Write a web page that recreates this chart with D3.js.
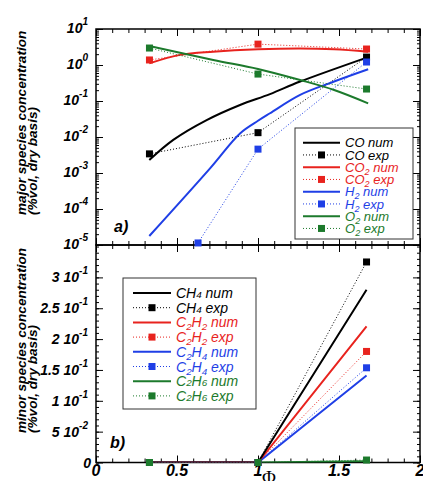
<!DOCTYPE html>
<html><head><meta charset="utf-8">
<script src="https://cdn.jsdelivr.net/npm/d3@7"></script>
<style>
html,body{margin:0;padding:0;background:#fff;}
svg{display:block;font-family:"Liberation Sans",Arial,sans-serif;}
</style></head>
<body>
<svg id="chart" width="423" height="481"></svg>
<script>
// ---------- DATA ----------
// Top panel (major species, log scale)
const coNumPhi  = [0.329, 0.477, 0.683, 0.889, 1.074, 1.26, 1.68];
const coNum     = [2.29e-3, 8.3e-3, 0.0295, 0.0776, 0.155, 0.347, 1.66];
const co2NumPhi = [0.329, 0.519, 0.724, 1.0, 1.26, 1.47, 1.68];
const co2Num    = [1.11, 1.91, 2.34, 2.73, 2.88, 2.73, 2.34];
const h2NumPhi  = [0.329, 0.704, 0.889, 1.0, 1.074, 1.26, 1.47, 1.68];
const h2Num     = [1.78e-5, 1.35e-3, 0.0126, 0.0282, 0.0457, 0.148, 0.347, 0.759];
const o2NumPhi  = [0.329, 0.724, 1.0, 1.26, 1.47, 1.68];
const o2Num     = [3.37, 1.38, 0.776, 0.383, 0.202, 0.086];

const expPhi    = [0.33, 1.0, 1.67];
const coExp     = [3.4e-3, 0.0132, 1.66];
const co2Exp    = [1.38, 3.8, 2.78];
const h2ExpPhi  = [0.63, 1.0, 1.67];
const h2Exp     = [1.14e-5, 4.6e-3, 1.21];
const o2Exp     = [2.96, 0.56, 0.215];

// Bottom panel (minor species, linear scale)
const minorPhi  = [0.33, 1.0, 1.67];
const ch4Num    = [0, 0, 0.280];
const ch4Exp    = [0, 0, 0.325];
const c2h2Num   = [0, 0, 0.2205];
const c2h2Exp   = [0, 0, 0.180];
const c2h4Num   = [0, 0, 0.141];
const c2h4Exp   = [0, 0, 0.1535];
const c2h6NumPhi = [1.0, 1.67];
const c2h6Num   = [0, 0.002];
const c2h6Exp   = [0, 0, 0.004];

// Tick labels
const xTickVals   = [0, 0.5, 1, 1.5, 2];
const xTickLabels = ["0", "0.5", "1", "1.5", "2"];
const topTickVals = [10, 1, 0.1, 0.01, 0.001, 1e-4, 1e-5];
const topTickExp  = ["1", "0", "-1", "-2", "-3", "-4", "-5"];
const botTickVals = [0.3, 0.25, 0.2, 0.15, 0.1, 0.05, 0];
const botTickMant = ["3 10", "2.5 10", "2 10", "1.5 10", "1 10", "5 10", "0"];
const botTickExp  = ["-1", "-1", "-1", "-1", "-1", "-2", ""];

// ---------- STYLE ----------
const BLACK = "#000", RED = "#e8231e", BLUE = "#1f3fe6", GREEN = "#1c7a2c";

const svg = d3.select("#chart");
const x = d3.scaleLinear().domain([0, 2]).range([96, 420]);
const yTop = d3.scaleLog().domain([1e-5, 10]).range([245, 29]);
const yBot = d3.scaleLinear().domain([0, 0.3525]).range([462.5, 245]);

// clip paths
const defs = svg.append("defs");
defs.append("clipPath").attr("id", "clipTop").append("rect")
  .attr("x", 96).attr("y", 29).attr("width", 324).attr("height", 216);
defs.append("clipPath").attr("id", "clipBot").append("rect")
  .attr("x", 96).attr("y", 245).attr("width", 324).attr("height", 217.5);

// ---------- AXES (ticks inward) ----------
function xTicks(yPos, dir) {
  const major = d3.range(0, 2.0001, 0.5);
  const minor = d3.range(0, 2.0001, 0.1);
  const mk = dir > 0 ? d3.axisBottom : d3.axisTop;
  svg.append("g").attr("transform", `translate(0,${yPos})`)
    .call(mk(x).tickValues(minor).tickSize(-4).tickFormat(""))
    .call(g => g.select(".domain").remove());
  svg.append("g").attr("transform", `translate(0,${yPos})`)
    .call(mk(x).tickValues(major).tickSize(-7).tickFormat(""))
    .call(g => g.select(".domain").remove());
}
xTicks(245, 1); xTicks(29, -1); xTicks(462.5, 1); xTicks(245, -1);

// y ticks (left and right, inward)
const logMinor = [];
for (let e = -5; e < 1; e++) for (let m = 2; m <= 9; m++) logMinor.push(m * Math.pow(10, e));
[[d3.axisLeft, 96], [d3.axisRight, 420]].forEach(([ax, xp]) => {
  svg.append("g").attr("transform", `translate(${xp},0)`)
    .call(ax(yTop).tickValues(logMinor).tickSize(-3).tickFormat(""))
    .call(g => g.select(".domain").remove());
  svg.append("g").attr("transform", `translate(${xp},0)`)
    .call(ax(yTop).tickValues(topTickVals).tickSize(-7).tickFormat(""))
    .call(g => g.select(".domain").remove());
  svg.append("g").attr("transform", `translate(${xp},0)`)
    .call(ax(yBot).tickValues(d3.range(0, 0.351, 0.01)).tickSize(-3).tickFormat(""))
    .call(g => g.select(".domain").remove());
  svg.append("g").attr("transform", `translate(${xp},0)`)
    .call(ax(yBot).tickValues(botTickVals).tickSize(-7).tickFormat(""))
    .call(g => g.select(".domain").remove());
});
svg.selectAll(".tick line").attr("stroke", "#000").attr("stroke-width", 1);

// frames
svg.append("rect").attr("x", 96).attr("y", 29).attr("width", 324).attr("height", 216)
  .attr("fill", "none").attr("stroke", "#000").attr("stroke-width", 1.5);
svg.append("rect").attr("x", 96).attr("y", 245).attr("width", 324).attr("height", 217.5)
  .attr("fill", "none").attr("stroke", "#000").attr("stroke-width", 1.5);

// tick labels
const tickFont = "bold italic 14px 'Liberation Sans', Arial, sans-serif";
topTickVals.forEach((v, i) => {
  const t = svg.append("text").attr("x", 88).attr("y", yTop(v) + 4)
    .attr("text-anchor", "end").style("font", tickFont);
  t.append("tspan").text("10");
  t.append("tspan").attr("baseline-shift", "8px").style("font-size", "10px").text(topTickExp[i]);
});
botTickVals.forEach((v, i) => {
  const t = svg.append("text").attr("x", botTickExp[i] ? 88 : 91).attr("y", yBot(v) + 5)
    .attr("text-anchor", "end").style("font", tickFont);
  t.append("tspan").text(botTickMant[i]);
  if (botTickExp[i]) t.append("tspan").attr("baseline-shift", "8px").style("font-size", "10px").text(botTickExp[i]);
});
xTickVals.forEach((v, i) => {
  svg.append("text").attr("x", x(v)).attr("y", 476).attr("text-anchor", "middle")
    .style("font", "bold italic 16px 'Liberation Sans', Arial, sans-serif").text(xTickLabels[i]);
});
svg.append("text").attr("x", 269).attr("y", 484).attr("text-anchor", "middle")
  .style("font", "19px 'Liberation Serif', serif").text("Φ");

// axis titles
const titleFont = "bold italic 13.6px 'Liberation Sans', Arial, sans-serif";
function yTitle(lines, startY) {
  [[lines[0], 26], [lines[1], 37]].forEach(([txt, bx]) => {
    svg.append("text").attr("transform", `translate(${bx},${startY}) rotate(-90)`)
      .attr("text-anchor", "start").style("font", titleFont).text(txt);
  });
}
yTitle(["major species concentration", "(%vol, dry basis)"], 215);
yTitle(["minor species concentration", "(%vol, dry basis)"], 433);

// panel labels
svg.append("text").attr("x", 114).attr("y", 232)
  .style("font", "bold italic 16px 'Liberation Sans', Arial, sans-serif").text("a)");
svg.append("text").attr("x", 110).attr("y", 448)
  .style("font", "bold italic 16px 'Liberation Sans', Arial, sans-serif").text("b)");

// ---------- SERIES ----------
function drawNum(g, phis, vals, y, color, curve) {
  g.append("path").datum(phis.map((p, i) => [p, vals[i]]))
    .attr("fill", "none").attr("stroke", color).attr("stroke-width", 2)
    .attr("d", d3.line().x(d => x(d[0])).y(d => y(d[1])).curve(curve));
}
function drawExp(g, gm, phis, vals, y, color) {
  const pts = phis.map((p, i) => [p, vals[i]]);
  g.append("path").datum(pts).attr("fill", "none").attr("stroke", color)
    .attr("stroke-width", 1).attr("stroke-dasharray", "1,2")
    .attr("d", d3.line().x(d => x(d[0])).y(d => y(d[1])));
  gm.selectAll(null).data(pts).enter().append("rect")
    .attr("x", d => x(d[0]) - 3.5).attr("y", d => y(d[1]) - 3.5)
    .attr("width", 7).attr("height", 7).attr("fill", color);
}

const smooth = d3.curveCatmullRom.alpha(0.5);
const gTop = svg.append("g").attr("clip-path", "url(#clipTop)");
const gTopM = svg.append("g");
drawNum(gTop, coNumPhi, coNum, yTop, BLACK, smooth);
drawExp(gTop, gTopM, expPhi, coExp, yTop, BLACK);
drawNum(gTop, co2NumPhi, co2Num, yTop, RED, smooth);
drawExp(gTop, gTopM, expPhi, co2Exp, yTop, RED);
drawNum(gTop, h2NumPhi, h2Num, yTop, BLUE, smooth);
drawExp(gTop, gTopM, h2ExpPhi, h2Exp, yTop, BLUE);
drawNum(gTop, o2NumPhi, o2Num, yTop, GREEN, smooth);
drawExp(gTop, gTopM, expPhi, o2Exp, yTop, GREEN);

const gBot = svg.append("g").attr("clip-path", "url(#clipBot)");
const gBotM = svg.append("g");
drawNum(gBot, minorPhi, c2h4Num, yBot, BLUE, d3.curveLinear);
drawNum(gBot, minorPhi, c2h2Num, yBot, RED, d3.curveLinear);
drawNum(gBot, minorPhi, ch4Num, yBot, BLACK, d3.curveLinear);
drawExp(gBot, gBotM, minorPhi, ch4Exp, yBot, BLACK);
drawExp(gBot, gBotM, minorPhi, c2h2Exp, yBot, RED);
drawExp(gBot, gBotM, minorPhi, c2h4Exp, yBot, BLUE);
drawNum(gBot, c2h6NumPhi, c2h6Num, yBot, GREEN, d3.curveLinear);
drawExp(gBot, gBotM, minorPhi, c2h6Exp, yBot, GREEN);

// ---------- LEGENDS ----------
function legend(box, entries, opts) {
  const g = svg.append("g");
  g.append("rect").attr("x", box[0]).attr("y", box[1]).attr("width", box[2]).attr("height", box[3])
    .attr("fill", "#fff").attr("stroke", "#333").attr("stroke-width", 1);
  entries.forEach((e, i) => {
    const cy = opts.y0 + i * opts.dy;
    if (e.type === "num") {
      g.append("line").attr("x1", opts.lx0).attr("x2", opts.lx1).attr("y1", cy).attr("y2", cy)
        .attr("stroke", e.color).attr("stroke-width", 2);
    } else {
      g.append("line").attr("x1", opts.lx0).attr("x2", opts.lx1).attr("y1", cy).attr("y2", cy)
        .attr("stroke", e.color).attr("stroke-width", 1).attr("stroke-dasharray", "1,2");
      const mx = (opts.lx0 + opts.lx1) / 2;
      g.append("rect").attr("x", mx - 3.5).attr("y", cy - 3.5).attr("width", 7).attr("height", 7)
        .attr("fill", e.color);
    }
    const t = g.append("text").attr("x", opts.tx).attr("y", cy + opts.fs * 0.36)
      .attr("fill", e.color).style("font", `italic ${opts.fs}px 'Liberation Sans', Arial, sans-serif`);
    e.parts.forEach(p => {
      const ts = t.append("tspan").text(p[0]);
      if (p[1] === "sub") ts.style("font-size", (opts.fs * 0.7) + "px").attr("baseline-shift", "-3px");
      else if (p[1] === "small") ts.style("font-size", (opts.fs * 0.7) + "px");
    });
  });
}
legend([295, 128, 118, 111], [
  {type: "num", color: BLACK, parts: [["CO num"]]},
  {type: "exp", color: BLACK, parts: [["CO exp"]]},
  {type: "num", color: RED, parts: [["CO"], ["2", "sub"], [" num"]]},
  {type: "exp", color: RED, parts: [["CO"], ["2", "sub"], [" exp"]]},
  {type: "num", color: BLUE, parts: [["H"], ["2", "sub"], [" num"]]},
  {type: "exp", color: BLUE, parts: [["H"], ["2", "sub"], [" exp"]]},
  {type: "num", color: GREEN, parts: [["O"], ["2", "sub"], [" num"]]},
  {type: "exp", color: GREEN, parts: [["O"], ["2", "sub"], [" exp"]]}
], {y0: 142.7, dy: 12.25, lx0: 303, lx1: 340, tx: 345, fs: 13});

legend([123, 278, 133, 131], [
  {type: "num", color: BLACK, parts: [["CH"], ["4", "small"], [" num"]]},
  {type: "exp", color: BLACK, parts: [["CH"], ["4", "small"], [" exp"]]},
  {type: "num", color: RED, parts: [["C"], ["2", "sub"], ["H"], ["2", "sub"], [" num"]]},
  {type: "exp", color: RED, parts: [["C"], ["2", "sub"], ["H"], ["2", "sub"], [" exp"]]},
  {type: "num", color: BLUE, parts: [["C"], ["2", "sub"], ["H"], ["4", "sub"], [" num"]]},
  {type: "exp", color: BLUE, parts: [["C"], ["2", "sub"], ["H"], ["4", "sub"], [" exp"]]},
  {type: "num", color: GREEN, parts: [["C"], ["2", "small"], ["H"], ["6", "small"], [" num"]]},
  {type: "exp", color: GREEN, parts: [["C"], ["2", "small"], ["H"], ["6", "small"], [" exp"]]}
], {y0: 293, dy: 14.7, lx0: 133, lx1: 171, tx: 176, fs: 14});
</script>
</body></html>
